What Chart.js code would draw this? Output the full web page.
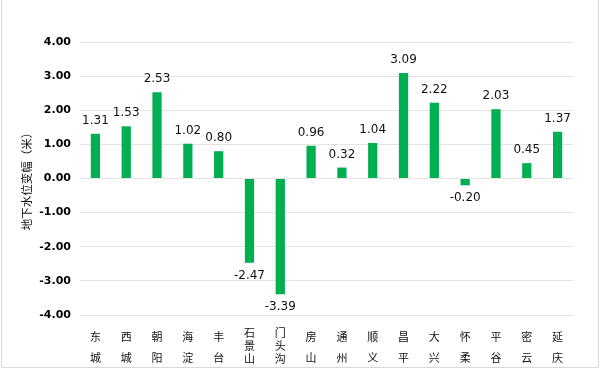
<!DOCTYPE html>
<html>
<head>
<meta charset="utf-8">
<script src="https://cdn.jsdelivr.net/npm/chart.js@4/dist/chart.umd.min.js"></script>
<style>
html,body{margin:0;padding:0;background:#fff;}
#wrap{position:relative;width:600px;height:369px;}
</style>
</head>
<body>
<div id="wrap"><canvas id="c" width="600" height="369"></canvas></div>
<script>
const categories = ['东城','西城','朝阳','海淀','丰台','石景山','门头沟','房山','通州','顺义','昌平','大兴','怀柔','平谷','密云','延庆'];
const values = [1.31,1.53,2.53,1.02,0.80,-2.47,-3.39,0.96,0.32,1.04,3.09,2.22,-0.20,2.03,0.45,1.37];
const yTicks = [-4,-3,-2,-1,0,1,2,3,4];
const yTitle = '地下水位变幅（米）';

const CJK = '"Noto Sans CJK SC", "DejaVu Sans", sans-serif';
const LAT = '"DejaVu Sans", sans-serif';

const labelPlugin = {
  id: 'valueLabels',
  afterDatasetsDraw(chart) {
    const ctx = chart.ctx;
    const meta = chart.getDatasetMeta(0);
    ctx.save();
    ctx.font = '12px ' + LAT;
    ctx.fillStyle = '#111';
    ctx.textAlign = 'center';
    ctx.textBaseline = 'middle';
    meta.data.forEach((bar, i) => {
      const v = values[i];
      const y = v >= 0 ? bar.y - 13 : bar.y + 13;
      ctx.fillText(v.toFixed(2), bar.x, y);
    });
    ctx.restore();
  }
};

const borderPlugin = {
  id: 'frame',
  afterDraw(chart) {
    const ctx = chart.ctx;
    ctx.save();
    ctx.strokeStyle = '#d9d9d9';
    ctx.lineWidth = 1;
    ctx.beginPath();
    ctx.moveTo(1.5, 0);
    ctx.lineTo(1.5, 367.5);
    ctx.lineTo(598.5, 367.5);
    ctx.lineTo(598.5, 0);
    ctx.stroke();
    ctx.restore();
  }
};

new Chart(document.getElementById('c'), {
  type: 'bar',
  data: {
    labels: categories.map(c => c.split('').length === 2 ? [c[0], c[1]] : c.split('')),
    datasets: [{
      data: values,
      backgroundColor: '#00B050',
      borderWidth: 0,
      barPercentage: 0.3,
      categoryPercentage: 1.0
    }]
  },
  options: {
    responsive: false,
    animation: false,
    devicePixelRatio: 1,
    layout: { padding: { left: 16, right: 27, top: 42, bottom: 4 } },
    plugins: { legend: { display: false }, tooltip: { enabled: false } },
    scales: {
      x: {
        grid: { display: false },
        border: { display: false },
        ticks: {
          autoSkip: false,
          maxRotation: 0,
          minRotation: 0,
          padding: 3,
          color: '#111',
          font: (ctx) => ({
            family: CJK,
            size: 11,
            lineHeight: (categories[ctx.index] && categories[ctx.index].length === 3) ? '13px' : '21px'
          })
        },
        afterFit(axis) { axis.height = 50; }
      },
      y: {
        min: -4,
        max: 4,
        afterBuildTicks(axis) { axis.ticks = yTicks.map(v => ({ value: v })); },
        grid: { color: '#e3e3e3', drawTicks: false, lineWidth: 1 },
        border: { display: false },
        ticks: {
          padding: 9,
          color: '#000',
          font: { family: LAT, size: 11, weight: 'bold' },
          callback: (v) => Number(v).toFixed(2)
        },
        title: {
          display: true,
          text: yTitle,
          color: '#111',
          font: { family: CJK, size: 11.5 },
          padding: { top: 4, bottom: 4 }
        },
        afterFit(axis) { axis.width = 64; }
      }
    }
  },
  plugins: [labelPlugin, borderPlugin]
});
</script>
</body>
</html>
